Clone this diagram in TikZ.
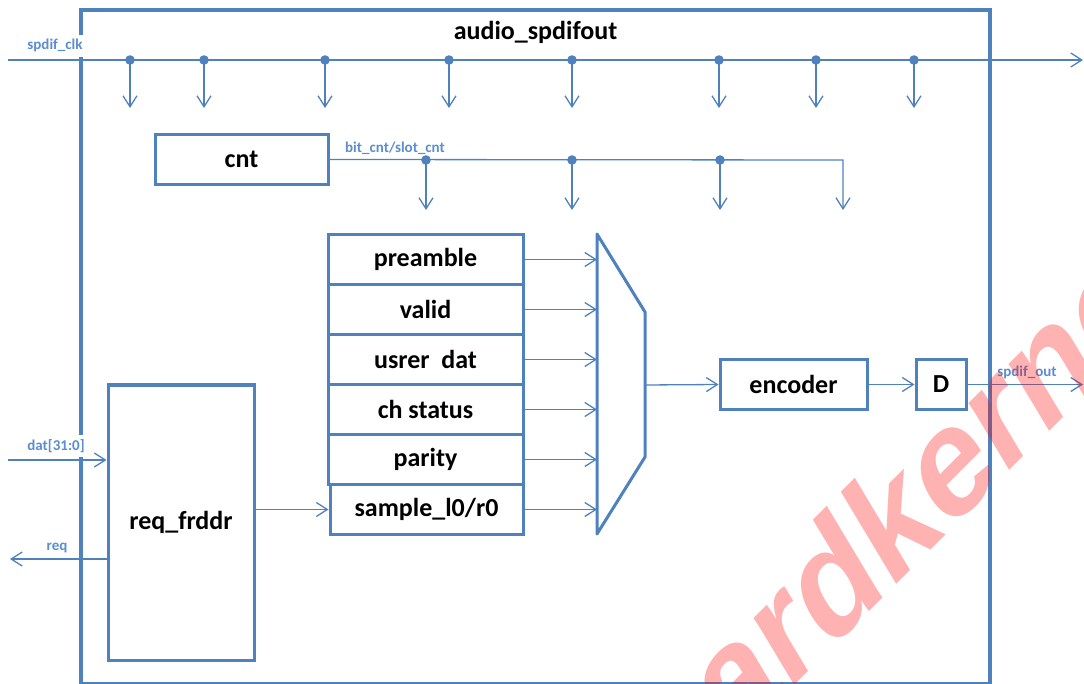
\documentclass[tikz,border=0pt]{standalone}
\usepackage{fontspec}
\setmainfont{Carlito}
\newfontfamily\wmfont{Liberation Sans}
\usetikzlibrary{arrows.meta}
\definecolor{bl}{HTML}{4F81BD}
\definecolor{lbl}{HTML}{5B8DD0}
\begin{document}
\begin{tikzpicture}[x=1pt,y=-1pt,
  blk/.style={draw=bl, line width=3pt, fill=white, inner sep=0pt,
    font=\fontsize{26}{28}\selectfont\bfseries, text=black},
  outerbox/.style={draw=bl, line width=4pt, inner sep=0pt},
  titletext/.style={font=\fontsize{26}{28}\selectfont\bfseries, text=black, inner sep=0pt},
  wire/.style={draw=bl, line width=1.3pt, -{Straight Barb[length=11pt,width=14pt]}},
  sig/.style={font=\fontsize{15}{17}\selectfont\bfseries, text=lbl, fill=white,
    inner xsep=3pt, inner ysep=4.5pt},
  tapdot/.style={fill=bl},
  watermark/.style={font=\wmfont\bfseries\fontsize{144}{144}\selectfont, text=red,
    text opacity=0.3, inner sep=0pt}
]
\useasboundingbox (0,0) rectangle (1084,684);

% outer module
\node[outerbox, minimum width=909pt, minimum height=674pt] (outer) at (535.5,347) {};
\node[titletext, anchor=base] (title) at (535.5,40) {audio\_spdifout};

% clock line
\coordinate (clkin) at (8,60);
\coordinate (clkout) at (1083,60);
\draw[wire] (clkin) -- (clkout);
\foreach \x [count=\i] in {130,204,325,449,572,719,816,914} {
  \coordinate (ck\i) at (\x,60);
  \coordinate (ckd\i) at (\x,108);
  \draw[wire] (ck\i) -- (ckd\i);
  \fill[tapdot] (ck\i) circle (4.8pt);
}
\node[sig, anchor=base] (clklbl) at (55,50) {spdif\_clk};

% counter
\node[blk, minimum width=173pt, minimum height=50pt] (cnt) at (241.5,159.5) {cnt};
\coordinate (cntend) at (843,160);
\coordinate (cntdown) at (843,210);
\draw[wire] (cnt.east) -- (cntend) -- (cntdown);
\foreach \x [count=\i] in {426,572,720} {
  \coordinate (bt\i) at (\x,160);
  \coordinate (btd\i) at (\x,210);
  \draw[wire] (bt\i) -- (btd\i);
  \fill[tapdot] (bt\i) circle (4.8pt);
}
\node[sig, fill=none, anchor=base] (cntlbl) at (395,153) {bit\_cnt/slot\_cnt};

% field stack
\node[blk, minimum width=195pt, minimum height=50pt] (r1) at (425.5,259.5) {preamble};
\node[blk, minimum width=195pt, minimum height=50pt] (r2) at (425.5,309.5) {valid};
\node[blk, minimum width=195pt, minimum height=50pt] (r3) at (425.5,359.5) {usrer\ \ dat};
\node[blk, minimum width=195pt, minimum height=50pt] (r4) at (425.5,409.5) {ch status};
\node[blk, minimum width=195pt, minimum height=50pt] (r5) at (425.5,459.5) {parity};
\node[blk, minimum width=193pt, minimum height=50pt] (r6) at (426.5,509.5) {sample\_l0/r0};

% mux
\coordinate (mtl) at (597,234);
\coordinate (mtr) at (645,312);
\coordinate (mbr) at (645,457);
\coordinate (mbl) at (597,534);
\draw[bl, line width=3pt, line join=round] (mtl) -- (mtr) -- (mbr) -- (mbl) -- cycle;
\foreach \r in {r1,r2,r3,r4,r5,r6} {
  \draw[wire] (\r.east) -- (\r.east -| mtl);
}
\coordinate (mout) at (645,385);

% encoder and D
\node[blk, minimum width=147pt, minimum height=49pt] (enc) at (793.5,384.5) {encoder};
\node[blk, minimum width=50pt, minimum height=49pt] (dff) at (941,384.5) {D};
\draw[wire] (mout) -- (enc.west);
\draw[wire] (enc.east) -- (dff.west);
\coordinate (spdout) at (1083,384.5);
\draw[wire] (dff.east) -- (spdout);
\node[sig, anchor=base] (outlbl) at (1027,377) {spdif\_out};

% request block
\node[blk, minimum width=146pt, minimum height=275pt] (frddr) at (181,522.5) {req\_frddr};
\coordinate (datin) at (8,460);
\draw[wire] (datin) -- (datin -| frddr.west);
\node[sig, anchor=base] (datlbl) at (56,450) {dat[31:0]};
\coordinate (reqout) at (10,559);
\draw[wire] (reqout -| frddr.west) -- (reqout);
\node[sig, anchor=base] (reqlbl) at (57,550) {req};
\draw[wire] (frddr.east |- r6) -- (r6.west);

% watermark
\node[watermark, rotate=45, xslant=0.25] (wm) at (902,506) {hardkernel};
\end{tikzpicture}
\end{document}
